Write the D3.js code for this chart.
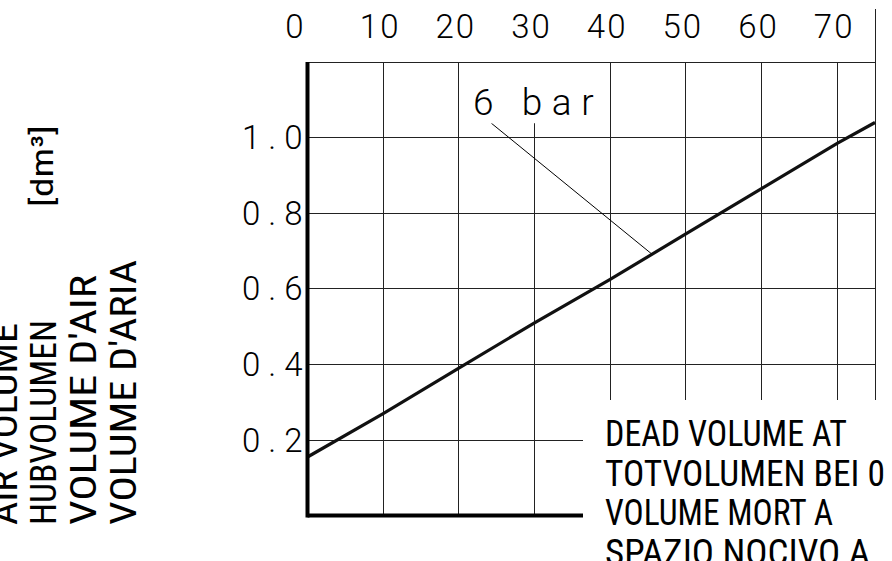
<!DOCTYPE html>
<html>
<head>
<meta charset="utf-8">
<script src="https://cdn.jsdelivr.net/npm/d3@7"></script>
<style>
  html, body { margin: 0; padding: 0; background: #fff; overflow: hidden; }
  svg { display: block; }
  .tick-label { font-family: Roboto, "Liberation Sans", sans-serif; font-weight: 300; fill: #000; }
  .narrow { font-family: "Liberation Sans Narrow", "Roboto Condensed", "DejaVu Sans Condensed", sans-serif; fill: #000; }
</style>
</head>
<body>
<div id="chart"></div>
<script>
// values
const xTicks = [0, 10, 20, 30, 40, 50, 60, 70];
const yTicks = [0.2, 0.4, 0.6, 0.8, 1.0];
const yTickLabels = ["0.2", "0.4", "0.6", "0.8", "1.0"];
const strokeLength = [0, 10, 20, 30, 40, 50, 60, 70, 75];
const airVolume6bar = [0.155, 0.27, 0.39, 0.51, 0.625, 0.745, 0.865, 0.985, 1.04];
const axisTitle = ["AIR VOLUME", "HUBVOLUMEN", "VOLUME D'AIR", "VOLUME D'ARIA"];
const deadVolumeNote = ["DEAD VOLUME AT", "TOTVOLUMEN BEI 0", "VOLUME MORT A", "SPAZIO NOCIVO A"];
const seriesLabel = "6 bar";
const unitLabel = "[dm³]";

const W = 892, H = 561;

const svg = d3.select("#chart").append("svg")
  .attr("width", W).attr("height", H);

/* SCALES */
var x = d3.scaleLinear().domain([0, 75]).range([307.5, 875]);
var y = d3.scaleLinear().domain([0, 1.2]).range([515.6, 62]);

/* GRID */
var grid = svg.append("g").attr("class", "grid")
  .attr("stroke", "#222").attr("stroke-width", 1).attr("shape-rendering", "crispEdges");

grid.selectAll("line.v")
  .data(xTicks.filter((d) => d > 0))
  .join("line")
  .attr("class", "v")
  .attr("x1", (d) => x(d)).attr("x2", (d) => x(d))
  .attr("y1", y(1.2)).attr("y2", y(0));

grid.selectAll("line.h")
  .data(yTicks)
  .join("line")
  .attr("class", "h")
  .attr("x1", x(0)).attr("x2", x(75))
  .attr("y1", (d) => y(d)).attr("y2", (d) => y(d));

// frame: top edge and right edge (runs up to the top of the sheet)
grid.append("line")
  .attr("x1", x(0)).attr("x2", x(75))
  .attr("y1", y(1.2)).attr("y2", y(1.2));
grid.append("line")
  .attr("x1", x(75)).attr("x2", x(75))
  .attr("y1", 9).attr("y2", y(0));

/* CURVE */
var pts = strokeLength.map((d, i) => [d, airVolume6bar[i]]);
svg.append("path")
  .datum(pts)
  .attr("fill", "none")
  .attr("stroke", "#111")
  .attr("stroke-width", 3.2)
  .attr("d", d3.line().x((d) => x(d[0])).y((d) => y(d[1])));

// leader from the label down to the curve
svg.append("line")
  .attr("x1", x(24.3)).attr("y1", y(1.038))
  .attr("x2", x(45.5)).attr("y2", y(0.692))
  .attr("stroke", "#000").attr("stroke-width", 1);

/* MASKS behind the texts */
svg.append("rect")
  .attr("x", x(20.3)).attr("y", y(1.2) + 1)
  .attr("width", x(39.4) - x(20.3))
  .attr("height", y(1.038) - y(1.2) - 1)
  .attr("fill", "#fff");

/* THICK AXES */
svg.append("line")
  .attr("x1", x(0)).attr("x2", x(0))
  .attr("y1", y(1.2)).attr("y2", y(0) + 2)
  .attr("stroke", "#000").attr("stroke-width", 4);
svg.append("line")
  .attr("x1", x(0)).attr("x2", x(75))
  .attr("y1", y(0)).attr("y2", y(0))
  .attr("stroke", "#000").attr("stroke-width", 4);

svg.append("rect")
  .attr("x", 583).attr("y", 400)
  .attr("width", W - 583).attr("height", H - 400)
  .attr("fill", "#fff");

/* TICK LABELS */
svg.append("g")
  .selectAll("text")
  .data(xTicks)
  .join("text")
  .attr("class", "tick-label")
  .attr("x", (d) => x(d) + (d === 0 ? -12 : -3))
  .attr("y", 38)
  .attr("text-anchor", "middle")
  .style("font-size", "33px")
  .style("letter-spacing", "2px")
  .text((d) => d);

svg.append("g")
  .selectAll("text")
  .data(yTicks)
  .join("text")
  .attr("class", "tick-label")
  .attr("x", x(0) - 5)
  .attr("y", (d) => y(d) + 11.5)
  .attr("text-anchor", "end")
  .attr("dx", 8)
  .style("font-size", "33px")
  .style("letter-spacing", "8px")
  .text((d, i) => yTickLabels[i]);

/* SERIES LABEL */
svg.append("text")
  .attr("class", "tick-label")
  .attr("x", 473)
  .attr("y", 115)
  .style("font-size", "37px")
  .style("letter-spacing", "9.6px")
  .text(seriesLabel);

/* Y TITLE (rotated, multilingual) */
var titleBase = [17, 56, 96, 136],
  titleLen = [202, 205, 250, 265];
svg.append("g")
  .selectAll("text")
  .data(axisTitle)
  .join("text")
  .attr("class", "narrow")
  .attr("transform", (d, i) => `translate(${titleBase[i]},525) rotate(-90)`)
  .attr("textLength", (d, i) => titleLen[i])
  .attr("lengthAdjust", "spacingAndGlyphs")
  .style("font-size", "37px")
  .text((d) => d);

svg.append("text")
  .attr("class", "narrow")
  .attr("transform", "translate(53,207) rotate(-90)")
  .attr("textLength", 82)
  .attr("lengthAdjust", "spacingAndGlyphs")
  .style("font-size", "31px")
  .text(unitLabel);

/* DEAD VOLUME NOTE */
var noteLen = [242, 280, 228, 265];
svg.append("g")
  .selectAll("text")
  .data(deadVolumeNote)
  .join("text")
  .attr("class", "narrow")
  .attr("x", 605)
  .attr("y", (d, i) => 446 + i * 39.5)
  .attr("textLength", (d, i) => noteLen[i])
  .attr("lengthAdjust", "spacingAndGlyphs")
  .style("font-size", "37px")
  .text((d) => d);
</script>
</body>
</html>
